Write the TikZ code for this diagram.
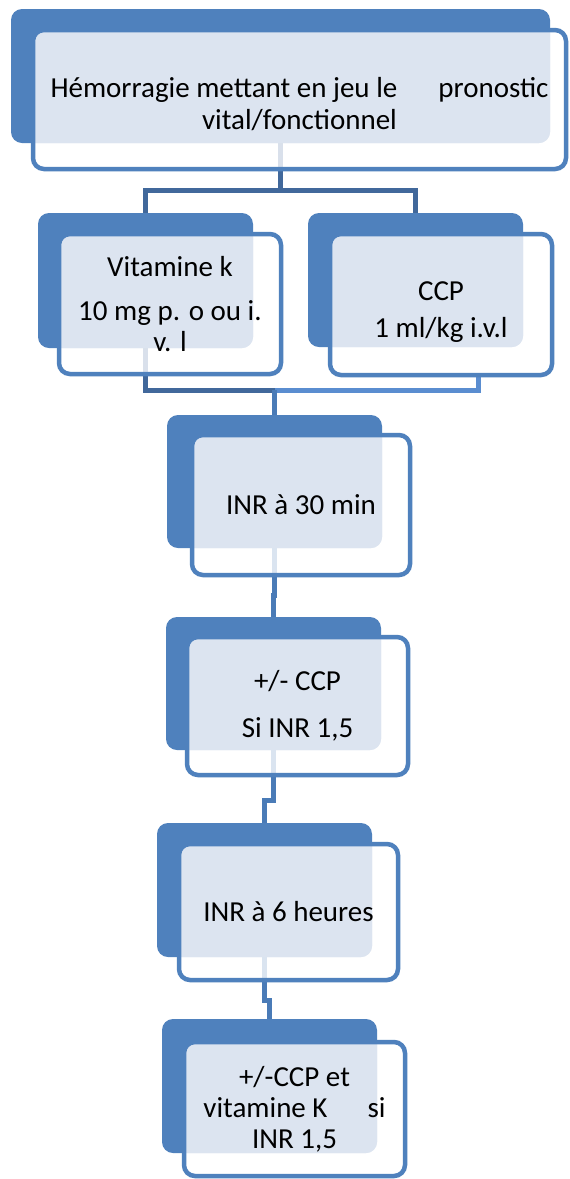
\documentclass[tikz,border=0pt]{standalone}
\usepackage{fontspec}
\setmainfont{Carlito}
\usepackage{xcolor}
\definecolor{back-blue}{HTML}{4F81BD}
\definecolor{line-blue}{HTML}{4F81BD}
\definecolor{dot-blue}{HTML}{DCE4F0}
\definecolor{dark-conn}{HTML}{41689B}
\definecolor{light-conn}{HTML}{5A8DD0}
\definecolor{mid-conn}{HTML}{4A7BB7}
\usepackage{tikz}
\usetikzlibrary{backgrounds}
\tikzset{back/.style = {fill=back-blue, rounded corners=11pt, anchor=north west, inner sep=0pt, outer sep=0pt}}
\tikzset{front/.style = {draw=line-blue, line width=4.5pt, rounded corners=11pt, align=center, text centered,
  inner sep=0pt, outer sep=0pt, fill=white, fill opacity=.8, text opacity=1,
  path picture={\fill[dot-blue, fill opacity=1, rounded corners=11pt]
    ([xshift=-30pt, yshift=30pt]path picture bounding box.north west) rectangle (#1.south east);}}}
\tikzset{conn/.style = {line width=5pt}}

\begin{document}
\begin{tikzpicture}[x=1pt, y=-1pt,
  font=\fontsize{29pt}{31pt}\selectfont
]
\useasboundingbox (0,0) rectangle (570,1179);

% shadow boxes behind
\node[back, minimum width=539pt, minimum height=134pt] (topB) at (11,9) {};
\node[back, minimum width=215pt, minimum height=135pt] (vitB) at (38,213) {};
\node[back, minimum width=215pt, minimum height=134pt] (ccpB) at (308,213) {};
\node[back, minimum width=215pt, minimum height=133pt] (inr30B) at (167,415) {};
\node[back, minimum width=215pt, minimum height=133pt] (ccp2B) at (166,617) {};
\node[back, minimum width=215pt, minimum height=134pt] (inr6B) at (157,823) {};
\node[back, minimum width=215pt, minimum height=134pt] (lastB) at (162,1019) {};

\node[front=topB, minimum width=533pt, minimum height=139pt] (top) at (299.5,99.5) {
  \rule{0pt}{30pt}Hémorragie mettant en jeu le\hspace{41pt}pronostic\\[1pt]
  vital/fonctionnel
};
\node[front=vitB, minimum width=222pt, minimum height=140pt] (vit) at (170,304) {
  Vitamine k\\[13pt]
  10 mg p. o ou i.\\
  v. l
};
\node[front=ccpB, minimum width=222pt, minimum height=141pt] (ccp) at (441,304.5) {
  \rule{0pt}{34pt}CCP\\[6pt]
  1 ml/kg i.v.l
};
\node[front=inr30B, minimum width=218pt, minimum height=140pt] (inr30) at (301,505) {INR à 30 min};
\node[front=ccp2B, minimum width=221pt, minimum height=138pt] (ccp2) at (297.5,706) {
  +/- CCP\\[16pt]
  Si INR 1,5
};
\node[front=inr6B, minimum width=219pt, minimum height=136pt] (inr6) at (288.5,912) {INR à 6 heures};
\node[front=lastB, minimum width=221pt, minimum height=134pt] (last) at (294.5,1109) {
  +/-CCP et\\
  vitamine K\hspace{40pt}si\\
  INR 1,5
};

% connectors go behind the boxes
\begin{pgfonlayer}{background}
\fill[white] (0,0) rectangle (570,1179);
\coordinate (j2) at ([yshift=-16pt]inr30B.north |- vit.south);
\draw[conn, draw=dark-conn]  (topB.south) -- ++(0,47) -| (vitB.north);
\draw[conn, draw=dark-conn]  (topB.south) -- ++(0,47) -| (ccpB.north);
\draw[conn, draw=dark-conn]  (vitB.south) |- (j2);
\draw[conn, draw=light-conn]  ([xshift=37pt]ccp.south) |- (j2);
\draw[conn, draw=mid-conn]  (j2) -- (inr30B.north);
\draw[conn, draw=mid-conn]  (inr30B.south) -- ++(0,47) -| (ccp2B.north);
\draw[conn, draw=mid-conn]  (ccp2B.south) -- ++(0,50) -| (inr6B.north);
\draw[conn, draw=mid-conn]  (inr6B.south) -- ++(0,43) -| (lastB.north);
\end{pgfonlayer}

\end{tikzpicture}
\end{document}
